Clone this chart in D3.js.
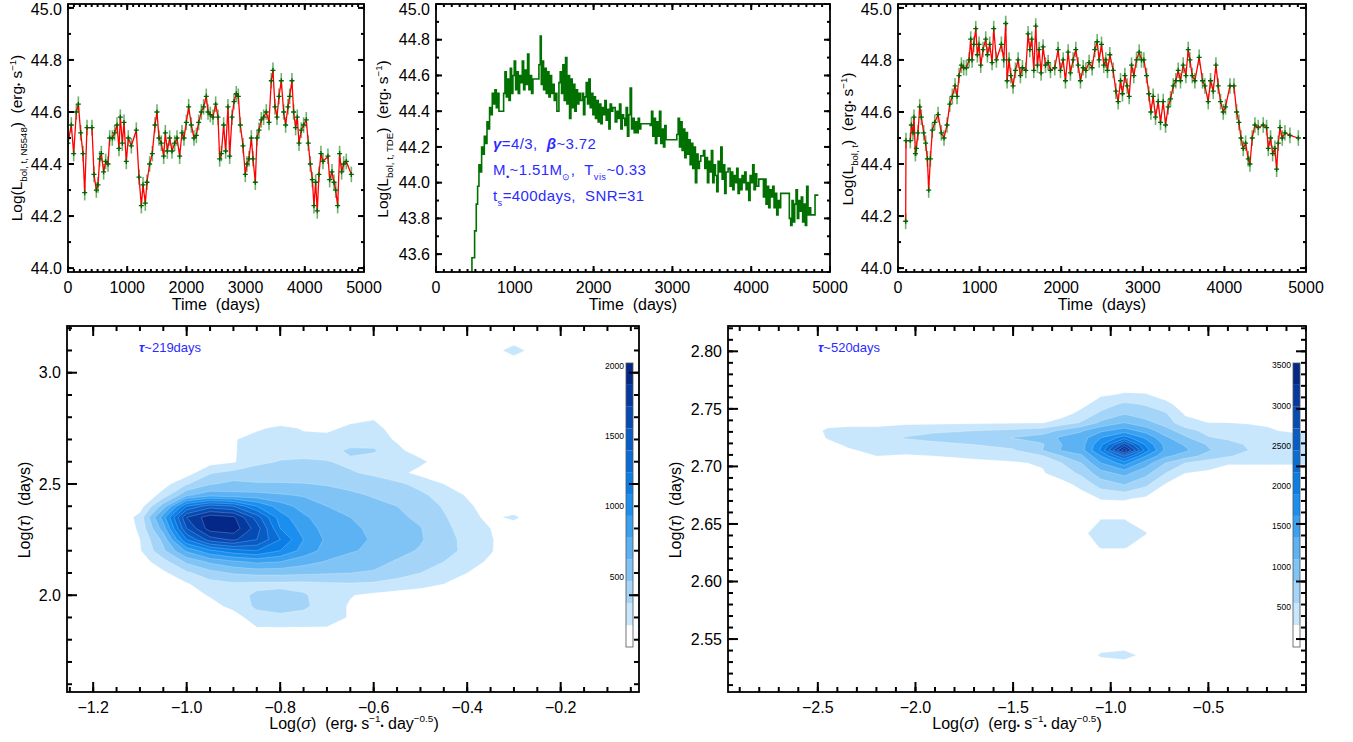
<!DOCTYPE html>
<html>
<head>
<meta charset="utf-8">
<script src="https://cdn.jsdelivr.net/npm/d3@7"></script>
<style>
  body { margin: 0; background: #fff; }
  svg { font-family: "Liberation Sans", Arial, sans-serif; }
  text { white-space: pre; }
</style>
</head>
<body>
<svg id="chart" width="1353" height="742"></svg>
<script>
// ---- light curves: [time (days), log L] ----
const n5548Curve = [[0,44.48],[56,44.55],[96,44.44],[141,44.6],[175,44.63],[214,44.52],[253,44.44],[282,44.29],[321,44.54],[405,44.54],[439,44.36],[479,44.3],[507,44.32],[535,44.42],[563,44.44],[602,44.37],[636,44.41],[676,44.4],[704,44.5],[749,44.5],[788,44.52],[828,44.55],[861,44.46],[884,44.58],[918,44.48],[946,44.56],[985,44.41],[1019,44.5],[1070,44.47],[1154,44.53],[1199,44.35],[1239,44.24],[1267,44.32],[1306,44.25],[1334,44.33],[1379,44.4],[1424,44.44],[1469,44.55],[1503,44.6],[1537,44.5],[1576,44.48],[1616,44.43],[1644,44.52],[1678,44.45],[1717,44.5],[1757,44.45],[1802,44.48],[1841,44.5],[1886,44.43],[1925,44.52],[1959,44.5],[1999,44.56],[2038,44.62],[2083,44.55],[2128,44.5],[2168,44.51],[2207,44.56],[2252,44.6],[2291,44.62],[2336,44.66],[2365,44.6],[2404,44.59],[2449,44.58],[2494,44.63],[2534,44.58],[2562,44.42],[2590,44.44],[2629,44.55],[2663,44.45],[2702,44.62],[2731,44.43],[2770,44.58],[2804,44.64],[2843,44.67],[2877,44.66],[2911,44.55],[2956,44.47],[2995,44.36],[3023,44.4],[3057,44.42],[3097,44.5],[3125,44.42],[3164,44.33],[3192,44.5],[3226,44.53],[3265,44.57],[3305,44.58],[3350,44.6],[3395,44.56],[3434,44.72],[3462,44.76],[3496,44.62],[3530,44.58],[3564,44.66],[3603,44.72],[3643,44.6],[3676,44.55],[3716,44.62],[3744,44.66],[3783,44.72],[3811,44.6],[3845,44.54],[3873,44.58],[3902,44.48],[3941,44.53],[3980,44.55],[4025,44.57],[4059,44.48],[4093,44.4],[4127,44.34],[4155,44.24],[4183,44.33],[4211,44.22],[4239,44.36],[4273,44.44],[4307,44.41],[4391,44.43],[4420,44.34],[4459,44.37],[4493,44.33],[4521,44.3],[4555,44.24],[4588,44.44],[4622,44.37],[4656,44.4],[4701,44.41],[4786,44.36]];

const tdeCurve = [[450,43.3],[456,43.58],[490,43.73],[511,43.88],[528,43.98],[545,44.1],[562,44.06],[579,44.2],[596,44.16],[613,44.26],[630,44.22],[647,44.34],[664,44.3],[680,44.42],[697,44.38],[714,44.5],[731,44.44],[748,44.52],[765,44.42],[782,44.5],[799,44.4],[833,44.4],[858,44.5],[875,44.62],[892,44.48],[909,44.58],[926,44.46],[943,44.64],[959,44.5],[976,44.6],[993,44.68],[1010,44.52],[1027,44.62],[1044,44.5],[1061,44.6],[1078,44.56],[1095,44.68],[1112,44.52],[1128,44.63],[1145,44.55],[1162,44.72],[1179,44.52],[1196,44.6],[1213,44.5],[1230,44.58],[1247,44.58],[1306,44.66],[1323,44.82],[1336,44.55],[1348,44.68],[1365,44.52],[1382,44.64],[1399,44.5],[1416,44.62],[1433,44.48],[1450,44.6],[1467,44.5],[1484,44.55],[1500,44.46],[1517,44.5],[1534,44.4],[1560,44.56],[1576,44.62],[1593,44.5],[1610,44.66],[1627,44.46],[1644,44.7],[1661,44.44],[1678,44.6],[1695,44.36],[1712,44.58],[1729,44.42],[1746,44.55],[1762,44.4],[1779,44.52],[1796,44.44],[1813,44.5],[1830,44.46],[1855,44.5],[1872,44.38],[1889,44.48],[1906,44.56],[1923,44.44],[1940,44.58],[1957,44.42],[1974,44.5],[1991,44.38],[2008,44.48],[2024,44.36],[2041,44.46],[2058,44.34],[2075,44.44],[2092,44.33],[2109,44.42],[2126,44.38],[2143,44.46],[2160,44.35],[2177,44.41],[2194,44.3],[2210,44.44],[2227,44.4],[2244,44.42],[2274,44.34],[2295,44.4],[2312,44.36],[2329,44.44],[2346,44.3],[2363,44.38],[2380,44.36],[2396,44.32],[2413,44.42],[2430,44.26],[2447,44.38],[2464,44.53],[2481,44.3],[2498,44.36],[2515,44.28],[2532,44.34],[2549,44.28],[2566,44.36],[2582,44.3],[2599,44.33],[2616,44.33],[2718,44.32],[2735,44.4],[2751,44.26],[2768,44.36],[2785,44.22],[2802,44.34],[2819,44.26],[2836,44.4],[2853,44.22],[2870,44.3],[2887,44.2],[2904,44.32],[2920,44.24],[3056,44.27],[3073,44.36],[3090,44.2],[3106,44.34],[3123,44.18],[3140,44.3],[3157,44.14],[3174,44.28],[3191,44.16],[3208,44.24],[3225,44.1],[3242,44.22],[3259,44.08],[3276,44.2],[3292,44.0],[3309,44.16],[3326,44.08],[3343,44.12],[3360,44.15],[3394,44.18],[3411,44.08],[3428,44.14],[3445,44.0],[3462,44.12],[3478,44.06],[3495,44.18],[3512,44.0],[3529,44.1],[3546,44.04],[3563,43.95],[3580,44.12],[3597,44.06],[3614,44.2],[3631,44.02],[3647,44.1],[3664,43.94],[3681,44.06],[3707,44.08],[3732,43.98],[3749,44.06],[3766,43.96],[3783,44.04],[3800,44.0],[3816,44.08],[3833,43.94],[3850,44.02],[3867,43.96],[3884,44.04],[3901,44.0],[3918,44.06],[3935,43.96],[3952,44.0],[3969,43.9],[3986,44.04],[4003,44.0],[4019,44.1],[4036,43.96],[4053,44.05],[4070,43.98],[4096,44.02],[4155,43.92],[4172,44.02],[4188,43.88],[4205,43.98],[4222,43.86],[4239,43.96],[4256,43.92],[4273,43.98],[4290,43.86],[4307,43.94],[4324,43.82],[4341,43.9],[4358,43.86],[4374,43.94],[4484,43.8],[4501,43.76],[4518,43.9],[4535,43.78],[4552,43.88],[4569,43.96],[4586,43.8],[4603,43.9],[4620,43.84],[4636,43.92],[4653,43.78],[4670,43.88],[4687,43.76],[4704,43.98],[4721,43.82],[4738,43.86],[4755,43.82],[4810,43.93],[4852,43.93]];

const totalCurve = [[94,44.18],[98,44.49],[151,44.49],[164,44.55],[184,44.52],[196,44.58],[213,44.44],[225,44.46],[245,44.52],[266,44.62],[286,44.58],[315,44.52],[339,44.48],[360,44.42],[376,44.3],[397,44.42],[421,44.53],[450,44.56],[491,44.59],[531,44.52],[564,44.5],[601,44.55],[634,44.63],[666,44.66],[699,44.7],[724,44.66],[748,44.74],[777,44.78],[805,44.77],[838,44.77],[871,44.8],[891,44.88],[908,44.8],[928,44.86],[953,44.92],[973,44.82],[993,44.86],[1014,44.78],[1042,44.84],[1075,44.88],[1096,44.82],[1124,44.86],[1153,44.79],[1173,44.92],[1206,44.8],[1267,44.86],[1296,44.8],[1320,44.94],[1337,44.72],[1361,44.8],[1382,44.74],[1410,44.7],[1439,44.76],[1472,44.8],[1500,44.74],[1525,44.77],[1566,44.76],[1594,44.9],[1615,44.84],[1639,44.88],[1664,44.76],[1688,44.93],[1709,44.78],[1729,44.84],[1754,44.75],[1778,44.85],[1807,44.78],[1840,44.79],[1868,44.76],[1921,44.77],[1962,44.84],[1991,44.76],[2024,44.8],[2052,44.72],[2085,44.83],[2113,44.75],[2146,44.8],[2179,44.84],[2208,44.78],[2236,44.72],[2269,44.77],[2302,44.76],[2342,44.79],[2379,44.77],[2412,44.84],[2441,44.87],[2465,44.8],[2494,44.86],[2522,44.78],[2547,44.8],[2567,44.76],[2596,44.82],[2637,44.76],[2670,44.68],[2698,44.64],[2727,44.72],[2751,44.67],[2780,44.74],[2808,44.7],[2833,44.66],[2862,44.78],[2890,44.74],[2923,44.8],[2956,44.83],[2984,44.8],[3013,44.8],[3046,44.74],[3074,44.67],[3099,44.6],[3127,44.66],[3156,44.58],[3189,44.64],[3217,44.56],[3250,44.64],[3279,44.55],[3311,44.62],[3340,44.65],[3373,44.7],[3405,44.72],[3434,44.76],[3462,44.72],[3495,44.78],[3528,44.74],[3557,44.84],[3577,44.8],[3606,44.74],[3638,44.72],[3691,44.81],[3732,44.72],[3761,44.7],[3802,44.64],[3830,44.72],[3863,44.68],[3896,44.78],[3924,44.7],[3953,44.64],[3986,44.6],[4014,44.62],[4068,44.7],[4117,44.7],[4150,44.6],[4178,44.56],[4203,44.5],[4231,44.46],[4260,44.48],[4292,44.42],[4313,44.4],[4341,44.5],[4374,44.55],[4415,44.54],[4476,44.55],[4517,44.54],[4538,44.46],[4566,44.5],[4591,44.44],[4619,44.46],[4640,44.38],[4660,44.48],[4681,44.54],[4709,44.5],[4742,44.52],[4803,44.51],[4906,44.5]];

const lumError = 0.03;          // vertical error bar half-length (dex)
const timeTicks = [0, 1000, 2000, 3000, 4000, 5000];
const lumTicks = [44.0, 44.2, 44.4, 44.6, 44.8, 45.0];
const tdeLumTicks = [43.6, 43.8, 44.0, 44.2, 44.4, 44.6, 44.8, 45.0];

// ---- MCMC density grids (values in units of one contour step) ----
const leftSigma = [-1.15,-1.10,-1.05,-1.00,-0.95,-0.90,-0.85,-0.80,-0.75,-0.70,-0.65,-0.60,-0.55,-0.50,-0.45,-0.40,-0.35,-0.30,-0.25];
const leftTau = [1.80,1.85,1.90,1.95,2.00,2.05,2.10,2.15,2.20,2.25,2.30,2.35,2.40,2.45,2.50,2.55,2.60,2.65,2.70,2.75,2.80,2.85,3.05,3.10,3.15];
const leftDensity = [
  [0,0,0,0,0,0,0,0,0,0,0,0,0,0,0,0,0,0,0],
  [0,0,0,0,0,0,0.9,0.9,0.9,0.9,0,0,0,0,0,0,0,0,0],
  [0,0,0,0,0,0.5,1.6,1.7,1.6,1.5,0.9,0.5,0,0,0,0,0,0,0],
  [0,0,0,0,0.6,1.3,2.2,2.5,2.2,1.5,0.9,0.6,0.3,0,0,0,0,0,0],
  [0,0,0,0.5,1.1,1.6,2.2,2.4,2.1,1.6,1.05,0.8,0.6,0.4,0.2,0,0,0,0],
  [0,0,0.3,0.9,1.6,1.8,1.7,1.7,1.7,1.8,1.9,1.8,1.6,1.4,1.0,0.6,0.2,0,0],
  [0,0.2,0.8,1.8,2.6,3.1,3.3,3.3,3.2,3.1,3.0,2.9,2.4,2.0,1.5,1.0,0.4,0,0],
  [0,0.5,1.6,3.2,4.2,4.8,5.2,5.0,4.4,3.9,3.6,3.3,2.9,2.5,2.0,1.5,0.8,0,0],
  [0,0.9,2.8,5.2,6.8,7.6,8.0,7.0,5.6,4.6,4.1,3.8,3.3,2.9,2.3,1.8,1.1,0.2,0],
  [0,1.0,3.3,8.0,10.5,11.2,10.0,8.0,6.0,4.8,4.3,3.9,3.5,3.1,2.4,1.7,1.1,0.3,0],
  [0,1.2,4.5,10.0,12.5,12.6,10.5,7.0,5.6,4.6,4.2,3.8,3.4,3.05,2.3,1.5,1.0,0.2,0],
  [0,1.4,5.5,11.0,12.6,12.2,9.5,6.5,5.2,4.4,4.0,3.6,3.2,2.8,2.1,1.4,0.7,1.3,0],
  [0,0.5,3.5,8.0,9.5,9.0,7.0,5.5,4.6,4.0,3.6,3.3,3.0,2.6,1.9,1.2,0.5,0,0],
  [0,0,1.4,3.8,4.6,4.3,4.3,4.1,3.9,3.5,3.2,2.9,2.6,2.2,1.6,0.9,0.2,0,0],
  [0,0,0.6,1.9,2.9,3.3,3.1,3.1,3.05,2.9,2.7,2.5,2.2,1.7,1.0,0.4,0,0,0],
  [0,0,0,0.5,1.9,2.3,2.4,2.4,2.3,2.2,2.1,1.8,1.3,0.7,0.3,0,0,0,0],
  [0,0,0,0,0.6,0.9,1.8,2.05,2.15,2.05,1.8,1.4,1.1,1.2,0.5,0,0,0,0],
  [0,0,0,0,0,0.9,1.6,1.7,1.6,1.6,2.2,2.15,1.2,0.6,0,0,0,0,0],
  [0,0,0,0,0,0.9,1.5,1.5,1.3,1.3,1.4,1.4,0.9,0.3,0,0,0,0,0],
  [0,0,0,0,0,0,0.8,1.3,0.9,0.8,1.2,1.3,0.6,0,0,0,0,0,0],
  [0,0,0,0,0,0,0,0,0,0,0.7,0.9,0,0,0,0,0,0,0],
  [0,0,0,0,0,0,0,0,0,0,0,0,0,0,0,0,0,0,0],
  [0,0,0,0,0,0,0,0,0,0,0,0,0,0,0,0,0,0,0],
  [0,0,0,0,0,0,0,0,0,0,0,0,0,0,0,0,0,1.9,0],
  [0,0,0,0,0,0,0,0,0,0,0,0,0,0,0,0,0,0,0]
];
const leftMax = 2020;

const rightSigma = [-2.55,-2.45,-2.35,-2.2,-2.05,-1.9,-1.7,-1.5,-1.35,-1.25,-1.15,-1.05,-0.93,-0.82,-0.72,-0.62,-0.5,-0.4,-0.3,-0.2,-0.05,0.1];
const rightTau = [2.525,2.536,2.548,2.615,2.630,2.642,2.656,2.664,2.672,2.684,2.694,2.703,2.709,2.714,2.719,2.725,2.731,2.738,2.746,2.754,2.762,2.772,2.782];
const rightDensity = [
  [0,0,0,0,0,0,0,0,0,0,0,0,0,0,0,0,0,0,0,0,0,0],
  [0,0,0,0,0,0,0,0,0,0,0,1.2,1.5,0.6,0,0,0,0,0,0,0,0],
  [0,0,0,0,0,0,0,0,0,0,0,0,0,0,0,0,0,0,0,0,0,0],
  [0,0,0,0,0,0,0,0,0,0,0,0,0,0,0,0,0,0,0,0,0,0],
  [0,0,0,0,0,0,0,0,0,0,0.3,1.1,1.1,0.5,0,0,0,0,0,0,0,0],
  [0,0,0,0,0,0,0,0,0,0,0.7,1.6,1.6,1.05,0,0,0,0,0,0,0,0],
  [0,0,0,0,0,0,0,0,0,0,0.3,0.9,0.9,0.4,0,0,0,0,0,0,0,0],
  [0,0,0,0,0,0,0,0,0,0,0,0.6,0.6,0,0,0,0,0,0,0,0,0],
  [0,0,0,0,0,0,0,0,0,0,0.5,1.05,1.1,0.8,0.3,0,0,0,0,0,0,0],
  [0,0,0,0,0,0,0,0,0,0.6,1.3,2.4,3.0,2.2,0.9,0.4,0,0,0,0,0,0],
  [0,0,0,0,0,0,0,0.3,0.9,1.5,2.2,3.6,4.3,3.3,2.0,1.0,0.8,0.5,0.5,0.5,0.5,0.5],
  [0,0,0,0.5,0.4,0.6,0.8,0.9,1.1,2.0,3.0,5.0,6.5,4.5,3.0,2.0,1.5,1.1,1.1,1.1,1.1,1.1],
  [0,0.2,0.5,1.0,0.85,1.0,1.15,1.4,1.9,3.0,3.8,6.0,9.0,6.0,4.2,3.5,2.6,2.1,1.7,1.5,1.4,1.4],
  [0,0.5,0.85,1.3,1.4,1.5,1.6,1.9,3.0,4.1,4.6,7.2,12.6,7.5,4.8,4.2,3.1,2.5,2.02,1.6,1.5,1.5],
  [0,0.7,1.15,1.4,1.7,1.85,2.0,2.3,2.9,4.0,4.6,6.8,10.5,6.8,4.7,3.9,2.9,2.4,1.9,1.6,1.5,1.5],
  [0.2,1.1,1.35,1.6,2.05,2.2,2.25,3.05,3.4,4.2,4.5,6.0,7.5,5.8,4.2,3.2,2.1,1.8,1.6,1.4,1.3,1.3],
  [0.3,1.25,1.2,1.2,1.6,1.9,2.0,2.2,2.5,3.2,3.9,4.8,5.5,4.6,3.4,2.5,1.6,1.35,1.25,1.1,0.85,0.85],
  [0,0.5,0.8,0.8,0.8,0.8,0.85,0.9,0.95,1.4,2.1,3.2,4.0,3.3,2.6,1.3,1.0,1.0,0.95,0.9,0.6,0.6],
  [0,0,0,0,0,0,0,0,0,0.6,1.3,2.2,2.9,2.5,2.1,0.9,0.5,0.4,0.3,0,0,0],
  [0,0,0,0,0,0,0,0,0,0,0.7,1.5,2.2,1.9,1.3,0.5,0,0,0,0,0,0],
  [0,0,0,0,0,0,0,0,0,0,0,0.9,1.1,1.1,0.6,0,0,0,0,0,0,0],
  [0,0,0,0,0,0,0,0,0,0,0,0,0.6,0.4,0,0,0,0,0,0,0,0],
  [0,0,0,0,0,0,0,0,0,0,0,0,0,0,0,0,0,0,0,0,0,0]
];
const rightMax = 3530;

const nBands = 13;
const bandColors = ['#ffffff','#c9e7fc','#a4d5f8','#80c3f5','#5cb2f3','#3aa1f1','#1a8ff0','#0b7ee6','#0a6dd6','#085cc6','#064bb3','#05399e','#032887'];
const leftBarLabels = [500, 1000, 1500, 2000];
const rightBarLabels = [500, 1000, 1500, 2000, 2500, 3000, 3500];

// ---------------------------------------------------------------
const svg = d3.select('#chart');
const INK = '#000';

function ticksOf(domain, step) {
  const [a, b] = domain;
  return d3.range(Math.ceil(a / step - 1e-9), Math.floor(b / step + 1e-9) + 1).map(k => +(k * step).toFixed(6));
}

// IDL-style box: ticks pointing in on all four sides, labels left and bottom
function idlAxes(g, x, y, o) {
  const [xl, xr] = x.range();
  const yb = Math.max(...y.range()), yt = Math.min(...y.range());
  const segs = [];
  const hTick = (v, len) => {
    const px = x(v);
    segs.push([px, yb, px, yb - len], [px, yt, px, yt + len]);
  };
  const vTick = (v, len) => {
    const py = y(v);
    segs.push([xl, py, xl + len, py], [xr, py, xr - len, py]);
  };
  ticksOf(x.domain(), o.xMinor).forEach(v => hTick(v, o.minorLen));
  ticksOf(y.domain(), o.yMinor).forEach(v => vTick(v, o.minorLen));
  o.xTicks.forEach(v => hTick(v, o.majorLen));
  o.yTicks.forEach(v => vTick(v, o.majorLen));

  const ax = g.append('g');
  ax.selectAll('line').data(segs).join('line')
    .attr('x1', s => s[0]).attr('y1', s => s[1]).attr('x2', s => s[2]).attr('y2', s => s[3])
    .attr('stroke', INK).attr('stroke-width', 2);
  ax.append('rect').attr('x', xl).attr('y', yt).attr('width', xr - xl).attr('height', yb - yt)
    .attr('fill', 'none').attr('stroke', INK).attr('stroke-width', 1.8);

  ax.append('g').selectAll('text').data(o.xTicks).join('text')
    .attr('x', v => x(v)).attr('y', yb + o.xLabelDy).attr('text-anchor', 'middle')
    .attr('font-size', 16).attr('fill', INK).text(o.xFormat);
  ax.append('g').selectAll('text').data(o.yTicks).join('text')
    .attr('x', xl - 6).attr('y', v => Math.max(y(v), yt + 5)).attr('dy', '0.36em').attr('text-anchor', 'end')
    .attr('font-size', 16).attr('fill', INK).text(o.yFormat);
}

// text with sub/superscripts built from parts
function richText(text, parts, size) {
  let shift = 0;
  parts.forEach(p => {
    const [str, kind] = Array.isArray(p) ? p : [p, null];
    let target = 0, fs = size;
    if (kind === 'sub') { target = size * 0.32; fs = size * 0.62; }
    if (kind === 'sup') { target = -size * 0.42; fs = size * 0.62; }
    if (kind === 'dot') { fs = size * 0.55; }
    const ts = text.append('tspan').attr('dy', target - shift).attr('font-size', fs).text(str);
    if (kind === 'it') ts.attr('font-style', 'italic');
    if (kind === 'bi') ts.attr('font-style', 'italic').attr('font-weight', 'bold');
    shift = target;
  });
}

function yTitle(cx, cy, parts, size) {
  const t = svg.append('text').attr('transform', `translate(${cx},${cy}) rotate(-90)`)
    .attr('text-anchor', 'middle').attr('font-size', size).attr('fill', INK);
  richText(t, parts, size);
}
function xTitle(cx, cy, parts, size) {
  const t = svg.append('text').attr('x', cx).attr('y', cy)
    .attr('text-anchor', 'middle').attr('font-size', size).attr('fill', INK);
  richText(t, parts, size);
}

let clipCount = 0;
function clipFor(x, y) {
  const id = 'clip' + (clipCount++);
  const [xl, xr] = x.range(), [yb, yt] = y.range();
  svg.append('clipPath').attr('id', id).append('rect')
    .attr('x', xl).attr('y', yt).attr('width', xr - xl).attr('height', yb - yt);
  return `url(#${id})`;
}

// ---- light-curve panel with error bars, crosses and red line ----
function lightCurvePanel(data, x, y, yTicks) {
  const g = svg.append('g');
  const body = g.append('g').attr('clip-path', clipFor(x, y));
  body.append('g').attr('stroke', '#3f9a3f').attr('stroke-width', 1.6).attr('stroke-opacity', 0.75)
    .selectAll('line').data(data).join('line')
    .attr('x1', d => x(d[0])).attr('x2', d => x(d[0]))
    .attr('y1', d => y(d[1] - lumError)).attr('y2', d => y(d[1] + lumError));
  body.append('path').datum(data)
    .attr('fill', 'none').attr('stroke', '#ff0000').attr('stroke-width', 1.3)
    .attr('d', d3.line().x(d => x(d[0])).y(d => y(d[1])));
  body.append('g').attr('stroke', '#006400').attr('stroke-width', 1.3).attr('fill', 'none')
    .selectAll('path').data(data).join('path')
    .attr('d', d => `M${x(d[0]) - 2.5},${y(d[1])}h5M${x(d[0])},${y(d[1]) - 2.5}v5`);
  idlAxes(g, x, y, {
    xTicks: timeTicks, yTicks, xMinor: 100, yMinor: 0.1, majorLen: 6, minorLen: 3,
    xLabelDy: 21, xFormat: d3.format('d'), yFormat: d3.format('.1f')
  });
}

// top-left: NGC 5548
const xTL = d3.scaleLinear([0, 5000], [68, 364]);
const yTL = d3.scaleLinear([43.985, 45.015], [272, 4]);
lightCurvePanel(n5548Curve, xTL, yTL, lumTicks);

// top-right: total light curve
const xTR = d3.scaleLinear([0, 5000], [898, 1306]);
const yTR = d3.scaleLinear([43.985, 45.015], [272, 4]);
lightCurvePanel(totalCurve, xTR, yTR, lumTicks);

// top-middle: TDE step curve
const xTM = d3.scaleLinear([0, 5000], [436, 830]);
const yTM = d3.scaleLinear([43.5, 45.0], [272, 4]);
{
  const g = svg.append('g');
  g.append('path').datum(tdeCurve).attr('clip-path', clipFor(xTM, yTM))
    .attr('fill', 'none').attr('stroke', '#007000').attr('stroke-width', 1.6)
    .attr('d', d3.line().curve(d3.curveStepAfter).x(d => xTM(d[0])).y(d => yTM(d[1])));
  idlAxes(g, xTM, yTM, {
    xTicks: timeTicks, yTicks: tdeLumTicks, xMinor: 100, yMinor: 0.1, majorLen: 6, minorLen: 3,
    xLabelDy: 21, xFormat: d3.format('d'), yFormat: d3.format('.1f')
  });
  const blue = '#2b2bff';
  const ann = [
    [['γ', 'bi'], '=4/3,  ', ['β', 'bi'], '~3.72'],
    ['M', ['•', 'sub'], '~1.51M', ['⊙', 'sub'], ',  T', ['vis', 'sub'], '~0.33'],
    ['t', ['s', 'sub'], '=400days,  SNR=31']
  ];
  ann.forEach((parts, i) => {
    const t = g.append('text').attr('x', 493).attr('y', 149 + i * 26)
      .attr('font-size', 15).attr('letter-spacing', 0.4).attr('fill', blue);
    richText(t, parts, 15);
  });
}

[216, 633, 1102].forEach(cx => svg.append('text').attr('x', cx).attr('y', 310)
  .attr('text-anchor', 'middle').attr('font-size', 16).attr('fill', INK).text('Time  (days)'));
yTitle(22, 138, ['Log(L', ['bol, t, N5548', 'sub'], ')  (erg', ['•', 'dot'], ' s', ['−1', 'sup'], ')'], 15.5);
yTitle(388, 139, ['Log(L', ['bol, t, TDE', 'sub'], ')  (erg', ['•', 'dot'], ' s', ['−1', 'sup'], ')'], 15.5);
yTitle(853, 139, ['Log(L', ['bol, t', 'sub'], ')  (erg', ['•', 'dot'], ' s', ['−1', 'sup'], ')'], 15.5);

// ---- density panels ----
function densityPanel(sigmaCols, tauRows, grid, maxVal, x, y, o) {
  const step = maxVal / nBands;
  const n = sigmaCols.length, m = tauRows.length;
  const values = grid.flat().map(v => v * step);
  const gx = d3.scaleLinear().domain(d3.range(n)).range(sigmaCols);
  const gy = d3.scaleLinear().domain(d3.range(m)).range(tauRows);
  const proj = d3.geoTransform({
    point(px, py) { this.stream.point(x(gx(px - 0.5)), y(gy(py - 0.5))); }
  });
  const path = d3.geoPath(proj);
  const levels = d3.range(1, nBands).map(k => k * step);
  const bands = d3.contours().size([n, m]).thresholds(levels)(values);
  const g = svg.append('g');
  g.append('g').attr('clip-path', clipFor(x, y))
    .selectAll('path').data(bands).join('path')
    .attr('d', path).attr('fill', (d, i) => bandColors[i + 1])
    .attr('stroke', 'rgba(255,255,255,0.35)').attr('stroke-width', 0.6);

  // colour bar
  const cy = d3.scaleLinear([0, maxVal], [647, 363]);
  const bar = g.append('g');
  bar.selectAll('rect').data(d3.range(nBands)).join('rect')
    .attr('x', o.barX).attr('width', 7)
    .attr('y', k => cy(Math.min((k + 1) * step, maxVal)))
    .attr('height', k => cy(k * step) - cy(Math.min((k + 1) * step, maxVal)))
    .attr('fill', k => bandColors[k]);
  bar.append('rect').attr('x', o.barX).attr('y', 363).attr('width', 7).attr('height', 284)
    .attr('fill', 'none').attr('stroke', '#555').attr('stroke-width', 0.8);
  bar.selectAll('text').data(o.barLabels).join('text')
    .attr('x', o.barX - 2).attr('y', d => cy(d)).attr('dy', '0.35em').attr('text-anchor', 'end')
    .attr('font-size', 8.5).attr('fill', INK).text(d => d);

  idlAxes(g, x, y, {
    xTicks: o.xTicks, yTicks: o.yTicks, xMinor: o.xMinor, yMinor: o.yMinor,
    majorLen: 10, minorLen: 5, xLabelDy: 21, xFormat: d3.format('.1f'), yFormat: o.yFormat
  });
  const t = g.append('text').attr('x', o.tauX).attr('y', 352).attr('font-size', 13).attr('fill', '#2b2bff');
  richText(t, [['τ', 'bi'], o.tauText], 13);
}

const xBL = d3.scaleLinear([-1.256, -0.0325], [67, 639]);
const yBL = d3.scaleLinear([1.565, 3.21], [692, 326]);
densityPanel(leftSigma, leftTau, leftDensity, leftMax, xBL, yBL, {
  barX: 626, barLabels: leftBarLabels,
  xTicks: [-1.2, -1.0, -0.8, -0.6, -0.4, -0.2], xMinor: 0.05,
  yTicks: [2.0, 2.5, 3.0], yMinor: 0.1, yFormat: d3.format('.1f'),
  tauX: 139, tauText: '~219days'
});

const xBR = d3.scaleLinear([-2.96, 0.0], [728, 1306]);
const yBR = d3.scaleLinear([2.504, 2.822], [692, 326]);
densityPanel(rightSigma, rightTau, rightDensity, rightMax, xBR, yBR, {
  barX: 1293, barLabels: rightBarLabels,
  xTicks: [-2.5, -2.0, -1.5, -1.0, -0.5], xMinor: 0.1,
  yTicks: [2.55, 2.60, 2.65, 2.70, 2.75, 2.80], yMinor: 0.01, yFormat: d3.format('.2f'),
  tauX: 818, tauText: '~520days'
});

const sigmaTitle = ['Log(', ['σ', 'it'], ')  (erg', ['•', 'dot'], ' s', ['−1', 'sup'], ['•', 'dot'], ' day', ['−0.5', 'sup'], ')'];
xTitle(354, 729, sigmaTitle, 16);
xTitle(1017, 729, sigmaTitle, 16);
const tauTitle = ['Log(', ['τ', 'it'], ')  (days)'];
yTitle(30, 510, tauTitle, 16);
yTitle(681, 510, tauTitle, 16);
</script>
</body>
</html>
